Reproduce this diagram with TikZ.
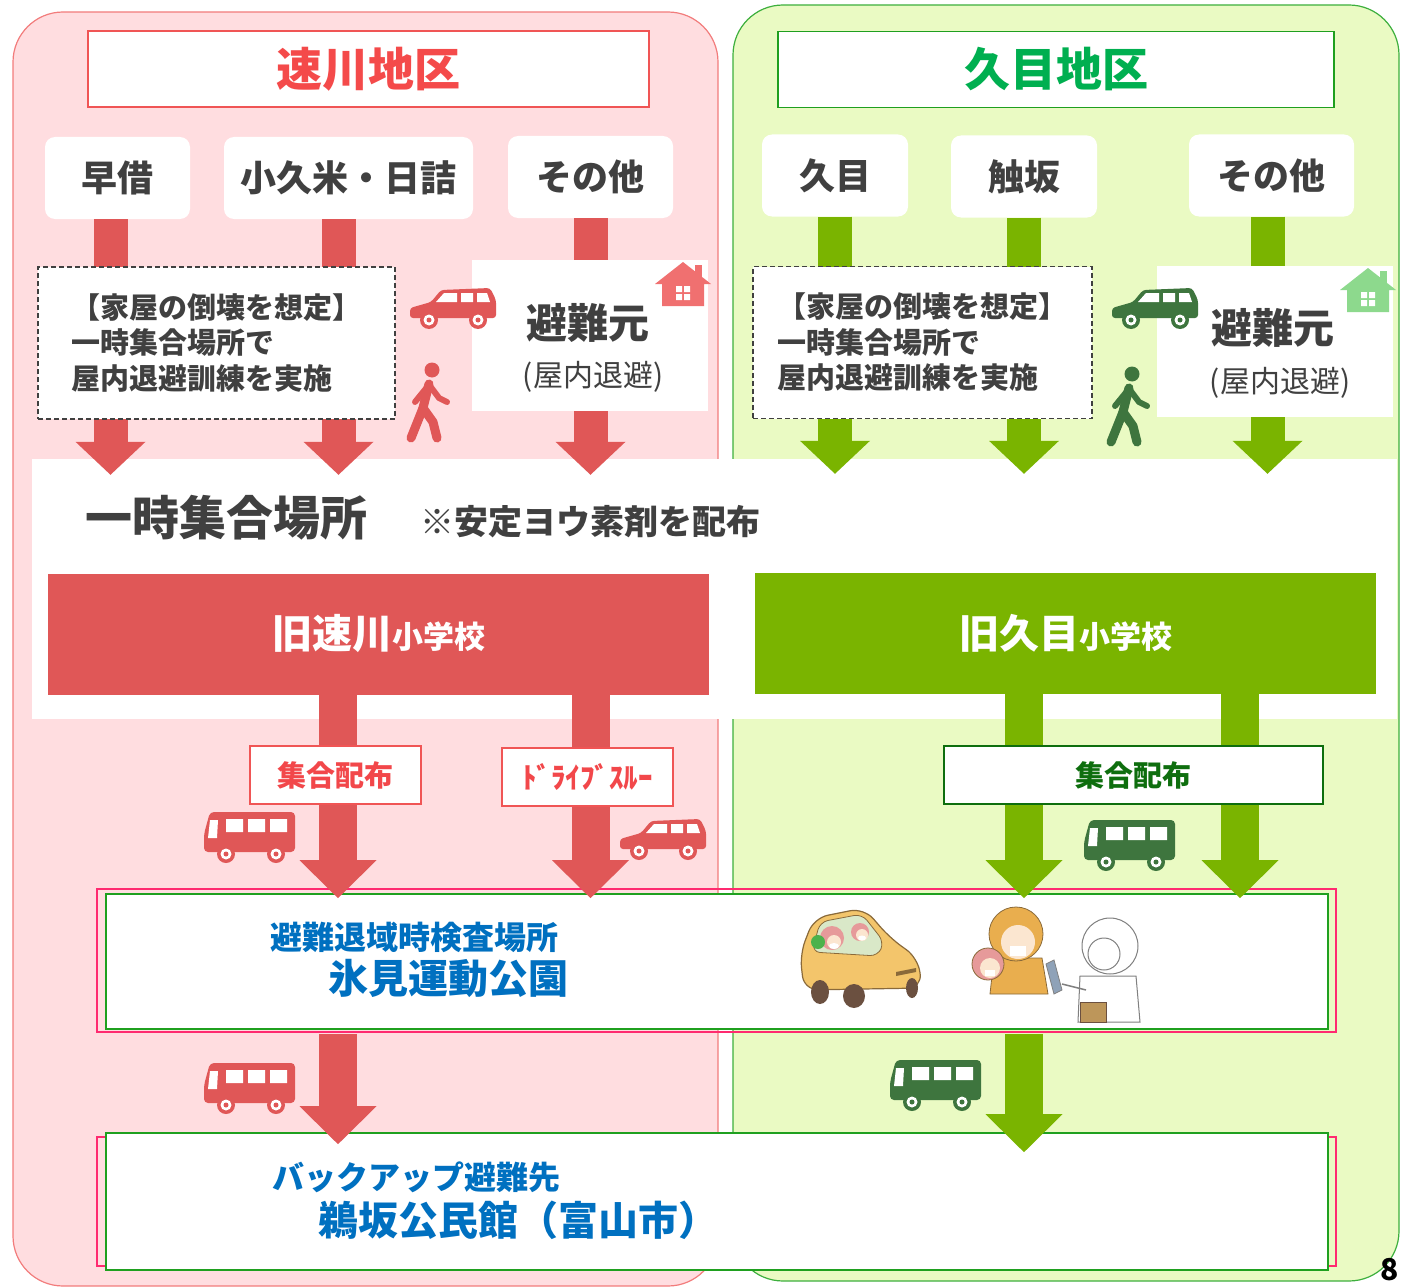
\documentclass[tikz,border=0pt]{standalone}
\usepackage{fontspec}
\setmainfont{Noto Sans CJK JP}
\usetikzlibrary{arrows.meta}

\definecolor{pinkbg}{HTML}{FFDDE0}
\definecolor{pinkedge}{HTML}{F27C7C}
\definecolor{greenbg}{HTML}{EAFAC3}
\definecolor{greenedge}{HTML}{3DAF3D}
\definecolor{hayared}{HTML}{F44A4A}
\definecolor{hayaframe}{HTML}{F05555}
\definecolor{kumegreen}{HTML}{00AF50}
\definecolor{kumeframe}{HTML}{1F9F1F}
\definecolor{arrred}{HTML}{E05757}
\definecolor{arrgreen}{HTML}{7AB400}
\definecolor{icongreen}{HTML}{3E753E}
\definecolor{housered}{HTML}{F07070}
\definecolor{housegreen}{HTML}{8DD98D}
\definecolor{textgray}{HTML}{404040}
\definecolor{tagred}{HTML}{F2474A}
\definecolor{taggreen}{HTML}{0E6E0E}
\definecolor{siteblue}{HTML}{0070C0}
\definecolor{sitegreen}{HTML}{1FA01F}
\definecolor{sitepink}{HTML}{FF2A70}
\definecolor{carbody}{HTML}{F3C56B}
\definecolor{carline}{HTML}{8A6A3A}
\definecolor{carglass}{HTML}{D9E8C8}
\definecolor{hairpink}{HTML}{E69A9A}
\definecolor{skin}{HTML}{FBE6D0}
\definecolor{wheel}{HTML}{6B5040}
\definecolor{hoodorange}{HTML}{E9AE4E}
\definecolor{detector}{HTML}{8FA2B8}

\newcommand{\fsz}[1]{\fontsize{#1}{#1}\selectfont}

% small pictograms, drawn in a local frame (y runs downwards)
\tikzset{
  pics/car/.style={code={
    \fill[rounded corners=3pt] (0,31) -- (0,21) -- (21,15) -- (31,3) -- (80,1) -- (86,13) -- (86,31) -- cycle;
    \fill[white] (34,6) -- (47,6) -- (47,15) -- (26,15) -- cycle
                 (51,6) rectangle (63,15)
                 (67,6) -- (77,6) -- (80,15) -- (67,15) -- cycle;
    \foreach \wx in {19,68} {
      \fill (\wx,33) circle (9);
      \fill[white] (\wx,33) circle (5.5);
      \fill (\wx,33) circle (2.5);
    }
  }},
  pics/bus/.style={code={
    \fill[rounded corners=4pt] (6,0) -- (91,0) -- (91,40) -- (0,40) -- (0,22) -- cycle;
    \fill[white] (6,8) -- (14,8) -- (13,26) -- (4,26) -- cycle
                 (22,7) rectangle (39,20) (44,7) rectangle (61,20) (66,7) rectangle (83,20);
    \foreach \wx in {22,72} {
      \fill (\wx,42) circle (9);
      \fill[white] (\wx,42) circle (5.5);
      \fill (\wx,42) circle (2.5);
    }
  }},
  pics/walker/.style={code={
    \fill (29,8) circle (7.5);
    \draw[line width=9pt, line cap=round, line join=round] (26,22) -- (20,46) -- (8,76);
    \draw[line width=9pt, line cap=round, line join=round] (20,46) -- (30,60) -- (34,76);
    \draw[line width=6pt, line cap=round, line join=round] (25,24) -- (12,40);
    \draw[line width=6pt, line cap=round, line join=round] (27,24) -- (36,36) -- (44,40);
  }},
  pics/house/.style={code={
    \fill (0,22) -- (28,0) -- (56,22) -- (49,22) -- (49,44) -- (7,44) -- (7,22) -- cycle;
    \fill (40,3) rectangle (47,16);
    \fill[white] (21,24) rectangle (27,30) (29,24) rectangle (35,30)
                 (21,32) rectangle (27,38) (29,32) rectangle (35,38);
  }},
  pics/evaccar/.style={code={
    \filldraw[fill=carbody, draw=carline, line width=1.2pt, rounded corners=14pt]
      (6,82) -- (2,46) -- (16,10) -- (66,0) -- (92,30) -- (120,50) -- (124,80) -- cycle;
    \filldraw[fill=carglass, draw=carline, line width=0.8pt, rounded corners=8pt]
      (14,44) -- (22,14) -- (64,6) -- (86,34) -- (80,48) -- cycle;
    \fill[hairpink] (34,30) circle (12) (62,24) circle (9);
    \fill[green!40!gray] (20,34) circle (7);
    \fill[skin] (36,34) circle (7) (64,27) circle (6);
    \fill[white] (36,38) ellipse (5 and 3) (64,30) ellipse (4 and 2.5);
    \fill[carline] (98,64) -- (118,60) -- (118,64) -- (98,68) -- cycle;
    \fill[wheel] (22,84) ellipse (9 and 12) (56,88) ellipse (11 and 12) (114,80) ellipse (6 and 10);
  }},
  pics/screening/.style={code={
    % evacuee carrying a child
    \filldraw[fill=hoodorange, draw=carline, line width=0.8pt] (26,60) -- (74,60) -- (80,96) -- (22,96) -- cycle;
    \filldraw[fill=hoodorange, draw=carline, line width=0.8pt] (48,36) circle (27);
    \fill[skin] (50,44) circle (17);
    \fill[white] (42,48) rectangle (58,58);
    \filldraw[fill=hairpink, draw=carline, line width=0.8pt] (20,66) circle (16);
    \fill[skin] (22,70) circle (10);
    \fill[white] (17,72) rectangle (27,78);
    % survey meter
    \filldraw[fill=detector, draw=gray, line width=0.8pt] (78,66) -- (86,62) -- (94,92) -- (86,96) -- cycle;
    % staff in protective suit
    \filldraw[fill=white, draw=gray, line width=1pt] (112,78) -- (168,78) -- (172,124) -- (110,124) -- cycle;
    \filldraw[fill=white, draw=gray, line width=1pt] (142,48) circle (28);
    \draw[gray, line width=1pt] (136,56) circle (16);
    \fill[white] (128,58) rectangle (144,68);
    \draw[gray, line width=1.5pt] (118,92) -- (94,86);
    \filldraw[fill=carbody!60!wheel, draw=wheel, line width=1pt] (112,104) rectangle (138,124);
  }}
}

\begin{document}
\begin{tikzpicture}[
  x=1pt, y=-1pt,
  panel/.style={line width=1.2pt, rounded corners=50pt},
  title/.style={fill=white, line width=1.6pt, minimum height=76pt, font=\fsz{46}\bfseries},
  area/.style={fill=white, rounded corners=10pt, minimum height=82pt, text=textgray, font=\fsz{36}\bfseries},
  drill/.style={draw=textgray, fill=white, line width=1.3pt, dash pattern=on 5pt off 3pt,
                minimum height=152pt, align=left, text=textgray,
                font=\fontsize{29}{35.5}\selectfont\bfseries},
  origin/.style={fill=white, minimum width=236pt, minimum height=151pt},
  school/.style={minimum height=121pt, text=white, font=\bfseries},
  tag/.style={fill=white, line width=2pt, minimum height=58pt, font=\fsz{29}\bfseries},
  site/.style={draw=sitegreen, fill=white, line width=1.6pt, minimum width=1222pt},
  siteline/.style={draw=sitepink, line width=1.6pt},
  sitetext/.style={anchor=west, inner sep=0pt, text=siteblue},
  flow/.style={line width=34pt, -{Triangle[length=33pt, width=70pt, line width=0pt]}},
  wideflow/.style={line width=38pt, -{Triangle[length=38pt, width=77pt, line width=0pt]}},
]
\useasboundingbox (0,0) rectangle (1401,1287);

% ================= district panels =================
\draw[panel, fill=pinkbg, draw=pinkedge] (13,12) rectangle (718,1286);
\draw[panel, fill=greenbg, draw=greenedge] (733,5) rectangle (1399,1281);

% temporary gathering place, spanning both districts
\node[fill=white, minimum width=1365pt, minimum height=260pt] (gather) at (714.5,589) {};
\node[anchor=west, inner sep=0pt, text=textgray, font=\fsz{47}\bfseries] (gathername) at (85,518) {一時集合場所};
\node[anchor=west, inner sep=0pt, text=textgray, font=\fsz{34}\bfseries] (iodine) at (420,522) {※安定ヨウ素剤を配布};

% ================= district titles and areas =================
\node[title, draw=hayaframe, text=hayared, minimum width=561pt] (hayakawa) at (368.5,69) {速川地区};
\node[title, draw=kumeframe, text=kumegreen, minimum width=556pt] (kumedist) at (1056,69.5) {久目地区};

\node[area, minimum width=145pt] (sokari) at (117.5,178) {早借};
\node[area, minimum width=249pt] (okume) at (348.5,178) {小久米・日詰};
\node[area, minimum width=165pt] (otherL) at (590.5,177) {その他};
\node[area, minimum width=146pt] (kume) at (835,175.5) {久目};
\node[area, minimum width=146pt] (furesaka) at (1024,176.5) {触坂};
\node[area, minimum width=165pt] (otherR) at (1271.5,175.5) {その他};

% areas down to the gathering place
\draw[flow, arrred, shorten >=-16pt] ([xshift=-7pt]sokari.south) -- ([xshift=-7pt]sokari.south |- gather.north);
\draw[flow, arrred, shorten >=-16pt] ([xshift=-10pt]okume.south) -- ([xshift=-10pt]okume.south |- gather.north);
\draw[flow, arrred, shorten >=-16pt] (otherL.south) -- (otherL.south |- gather.north);
\draw[flow, arrgreen, shorten >=-15pt] (kume.south) -- (kume.south |- gather.north);
\draw[flow, arrgreen, shorten >=-15pt] (furesaka.south) -- (furesaka.south |- gather.north);
\draw[flow, arrgreen, shorten >=-15pt] ([xshift=-4pt]otherR.south) -- ([xshift=-4pt]otherR.south |- gather.north);

% ================= drills and sheltering at home =================
\node[drill, minimum width=357pt] (drillL) at (216.5,343) {【家屋の倒壊を想定】\\一時集合場所で\\屋内退避訓練を実施};
\node[drill, minimum width=339pt] (drillR) at (922.5,342.5) {【家屋の倒壊を想定】\\一時集合場所で\\屋内退避訓練を実施};

\node[origin] (originL) at (590,335) {};
\node[text=textgray, font=\fsz{41}\bfseries] (originLname) at (588,323) {避難元};
\node[text=textgray, font=\fsz{30}] (originLnote) at (593,377) {(屋内退避)};
\node[origin] (originR) at (1275,341) {};
\node[text=textgray, font=\fsz{41}\bfseries] (originRname) at (1273,328) {避難元};
\node[text=textgray, font=\fsz{30}] (originRnote) at (1280,383) {(屋内退避)};

\pic[color=housered] at (655,262) {house};
\pic[color=housegreen] at (1340,268) {house};
\pic[color=arrred] at (410,287) {car};
\pic[color=arrred] at (403,362) {walker};
\pic[color=icongreen] at (1112,287) {car};
\pic[color=icongreen] at (1103,366) {walker};

% ================= old primary schools =================
\node[school, fill=arrred, minimum width=661pt] (schoolL) at (378.5,634) {{\fsz{40}旧速川}{\fsz{31}小学校}};
\node[school, fill=arrgreen, minimum width=621pt] (schoolR) at (1065.5,633) {{\fsz{40}旧久目}{\fsz{31}小学校}};

% ================= screening site and backup shelter =================
\draw[siteline] (97,889) rectangle (1336,1032);
\node[site, minimum height=135pt] (kensa) at (717,961.5) {};
\node[sitetext, font=\fsz{32}\bfseries] (kensaname) at (270,937) {避難退域時検査場所};
\node[sitetext, font=\fsz{40}\bfseries] (himi) at (328,978) {氷見運動公園};
\pic at (798,908) {evaccar};
\pic at (968,898) {screening};

\draw[siteline] (97,1137) rectangle (1336,1266);
\node[site, minimum height=137pt] (backup) at (717,1201.5) {};
\node[sitetext, font=\fsz{32}\bfseries] (backupname) at (272,1177) {バックアップ避難先};
\node[sitetext, font=\fsz{40}\bfseries] (usaka) at (318,1220) {鵜坂公民館（富山市）};

% schools to the screening site
\draw[wideflow, arrred, shorten >=-5pt] ([xshift=-10.5pt]schoolL.south -| okume) -- ([xshift=-10.5pt]kensa.north -| okume);
\draw[wideflow, arrred, shorten >=-5pt] (schoolL.south -| otherL) -- (kensa.north -| otherL);
\draw[wideflow, arrgreen, shorten >=-5pt] (schoolR.south -| furesaka) -- (kensa.north -| furesaka);
\draw[wideflow, arrgreen, shorten >=-5pt] ([xshift=174.5pt]schoolR.south) -- ([xshift=174.5pt]schoolR.south |- kensa.north);

\node[tag, draw=hayaframe, text=tagred, minimum width=171pt] (shugoL) at (335.5,775) {集合配布};
\node[tag, draw=hayaframe, text=tagred, minimum width=171pt] (drive) at (587.5,776.5) {ﾄﾞﾗｲﾌﾞｽﾙｰ};
\node[tag, draw=taggreen, text=taggreen, minimum width=379pt] (shugoR) at (1133.5,775) {集合配布};

\pic[color=arrred] at (204,812) {bus};
\pic[color=arrred] at (620,818) {car};
\pic[color=icongreen] at (1084,820) {bus};

% screening site to the backup shelter
\draw[wideflow, arrred, shorten >=-12pt] ([xshift=2.5pt, yshift=-4pt]kensa.south -| shugoL) -- ([xshift=2.5pt]backup.north -| shugoL);
\draw[wideflow, arrgreen, shorten >=-20pt] ([yshift=-4pt]kensa.south -| furesaka) -- (backup.north -| furesaka);
\pic[color=arrred] at (204,1063) {bus};
\pic[color=icongreen] at (890,1060) {bus};

\node[font=\fsz{30}\bfseries, inner sep=0pt] (pagenum) at (1390,1270) {8};

\end{tikzpicture}
\end{document}
